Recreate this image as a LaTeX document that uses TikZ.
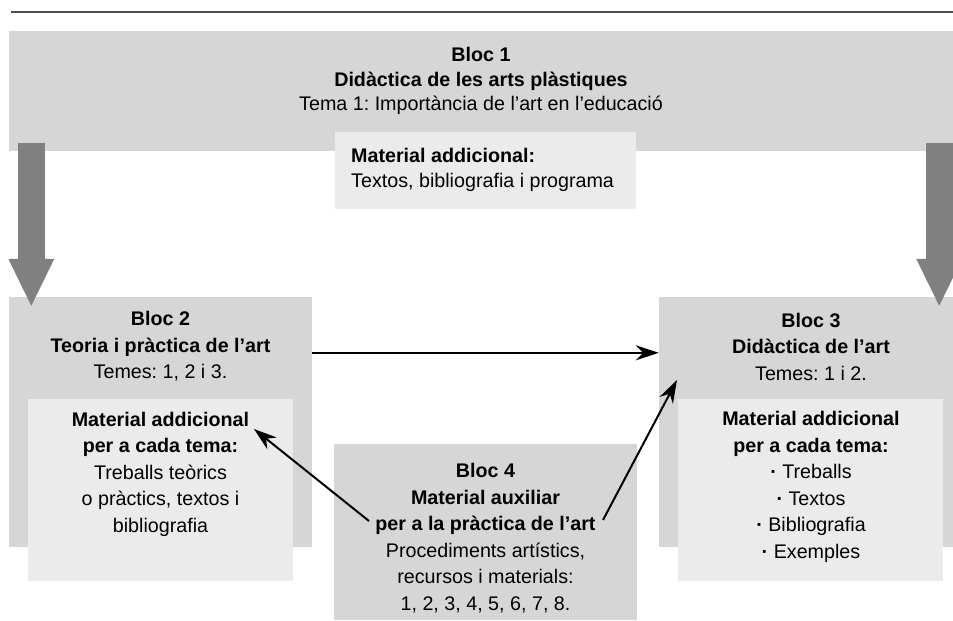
\documentclass[tikz,border=0pt]{standalone}
\usepackage{fontspec}
\setmainfont{Liberation Sans}
\usetikzlibrary{arrows.meta}
\frenchspacing
\definecolor{blocgray}{HTML}{D6D6D6}
\definecolor{matgray}{HTML}{EBEBEB}
\definecolor{arrowgray}{HTML}{808080}
\tikzset{
	bloc/.style={fill=blocgray, inner sep=0pt},
	mat/.style={fill=matgray, inner sep=0pt},
	txt/.style={align=center, inner sep=0pt, font=\fontsize{19.7}{26.5}\selectfont},
	bigarrow/.style={arrowgray, line width=27pt, -{Triangle[length=47pt,width=46pt,line width=0pt]}},
	conn/.style={line width=2pt, -{Stealth[length=23pt,width=15pt]}}
}
\newcommand{\dotitem}{\textbf{·}\ }
\begin{document}
\begin{tikzpicture}[x=1pt,y=-1pt]
			%%%%% START %%%%%
			\useasboundingbox (0,0) rectangle (953,621);
			
			\draw[line width=2pt, black!70] (11,12) -- (953,12);
			
			% blocs
			\node[bloc, minimum width=944, minimum height=120] (bloc1) at (481,91) {};
			\node[mat, minimum width=301, minimum height=77] (mat1) at (485.5,170.5) {};
			\node[bloc, minimum width=303, minimum height=250] (bloc2) at (160.5,422) {};
			\node[mat, minimum width=265, minimum height=182] (mat2) at (160.5,490) {};
			\node[bloc, minimum width=294, minimum height=250] (bloc3) at (806,422) {};
			\node[mat, minimum width=265, minimum height=182] (mat3) at (810.5,490) {};
			\node[bloc, minimum width=303, minimum height=176] (bloc4) at (485.5,532) {};
			
			% texts
			\node[txt, font=\fontsize{19.7}{24.5}\selectfont] (t1) at (481,81) {\textbf{Bloc 1}\\\textbf{Didàctica de les arts plàstiques}\\Tema 1: Importància de l’art en l’educació};
			\node[txt, align=left, anchor=west, font=\fontsize{19.7}{25}\selectfont] (t1m) at (351,169.5) {\textbf{Material addicional:}\\Textos, bibliografia i programa};
			
			\node[txt] (t2) at (160.5,346.5) {\textbf{Bloc 2}\\\textbf{Teoria i pràctica de l’art}\\Temes: 1, 2 i 3.};
			\node[txt] (t2m) at (160.5,474) {\textbf{Material addicional}\\\textbf{per a cada tema:}\\Treballs teòrics\\o pràctics, textos i\\bibliografia};
			
			\node[txt] (t3) at (811,346.5) {\textbf{Bloc 3}\\\textbf{Didàctica de l’art}\\Temes: 1 i 2.};
			\node[txt] (t3m) at (811,487) {\textbf{Material addicional}\\\textbf{per a cada tema:}\\\dotitem Treballs\\\dotitem Textos\\\dotitem Bibliografia\\\dotitem Exemples};
			
			\node[txt] (t4) at (485.5,538) {\textbf{Bloc 4}\\\textbf{Material auxiliar}\\\textbf{per a la pràctica de l’art}\\Procediments artístics,\\recursos i materials:\\1, 2, 3, 4, 5, 6, 7, 8.};
			
			% arrows
			\draw[bigarrow] ([xshift=22.5pt,yshift=8pt]bloc1.south west) -- ([xshift=22.5pt,yshift=-9pt]bloc2.north west);
			\draw[bigarrow] ([xshift=-14pt,yshift=8pt]bloc1.south east) -- ([xshift=-14pt,yshift=-9pt]bloc3.north east);
			
			\draw[conn] ([yshift=-56pt]bloc2.north east) -- ([yshift=-56pt]bloc3.north west);
			
			\coordinate (b4left) at (369,521);
			\coordinate (b4right) at (603,520);
			\coordinate (b2tip) at (254,429);
			\coordinate (b3tip) at (677,380);
			\draw[conn] (b4left) -- (b2tip);
			\draw[conn] (b4right) -- (b3tip);
			%%%%% END %%%%%
\end{tikzpicture}
\end{document}
